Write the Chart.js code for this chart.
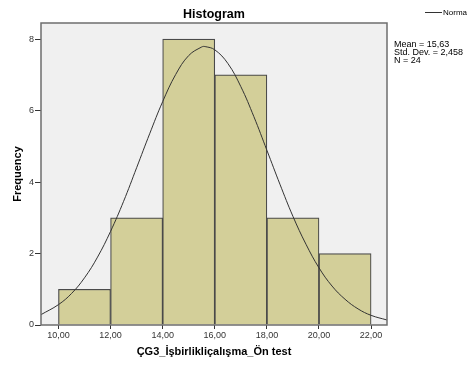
<!DOCTYPE html>
<html>
<head>
<meta charset="utf-8">
<script src="https://cdn.jsdelivr.net/npm/chart.js@4"></script>
<style>
  html, body { margin: 0; padding: 0; background: #fff; }
  #wrap { width: 468px; height: 365px; position: relative; }
</style>
</head>
<body>
<div id="wrap"><canvas id="myChart"></canvas></div>
<script>
// 히스토그램 구간 (중심값) 과 빈도
const binCenters = [11, 13, 15, 17, 19, 21];
const frequencies = [1, 3, 8, 7, 3, 2];

// 정규곡선 - 그림에서 읽은 값
const curveX = [9.33, 10, 10.5, 11, 11.5, 12, 12.5, 13, 13.5, 14, 14.5, 15, 15.5, 15.63, 16, 16.5, 17, 17.5, 18, 18.5, 19, 19.5, 20, 20.5, 21, 21.5, 22, 22.61];
const curveY = [0.29, 0.57, 0.88, 1.32, 1.90, 2.62, 3.46, 4.40, 5.35, 6.25, 7.01, 7.54, 7.78, 7.79, 7.70, 7.32, 6.67, 5.83, 4.89, 3.94, 3.04, 2.26, 1.60, 1.09, 0.72, 0.45, 0.27, 0.14];

const xTicks = [10, 12, 14, 16, 18, 20, 22];
const yTicks = [0, 2, 4, 6, 8];

const statLines = ['Mean = 15,63', 'Std. Dev. = 2,458', 'N = 24'];

const barData = binCenters.map((c, i) => ({x: c, y: frequencies[i]}));
const curveData = curveX.map((x, i) => ({x: x, y: curveY[i]}));

// 배경, 테두리, 제목, 범례 그리기
const spssDeco = {
  id: 'spssDeco',
  beforeDraw(chart) {
    const {ctx, chartArea: a} = chart;
    ctx.save();
    ctx.fillStyle = '#f0f0f0';
    ctx.fillRect(a.left, a.top, a.right - a.left, a.bottom - a.top);
    ctx.restore();
  },
  afterDraw(chart) {
    const {ctx, chartArea: a} = chart;
    ctx.save();
    ctx.strokeStyle = '#6e6e6e';
    ctx.lineWidth = 1.5;
    ctx.strokeRect(a.left, a.top, a.right - a.left, a.bottom - a.top);

    ctx.fillStyle = '#000';
    ctx.font = 'bold 12.5px "Liberation Sans", Arial, sans-serif';
    ctx.textAlign = 'center';
    ctx.textBaseline = 'middle';
    ctx.fillText('Histogram', (a.left + a.right) / 2, 15);

    // 범례
    ctx.strokeStyle = '#333';
    ctx.lineWidth = 1;
    ctx.beginPath();
    ctx.moveTo(425, 12.5);
    ctx.lineTo(442, 12.5);
    ctx.stroke();
    ctx.font = '8px "Liberation Sans", Arial, sans-serif';
    ctx.textAlign = 'left';
    ctx.fillText('Norma', 443, 13);

    ctx.font = '9px "Liberation Sans", Arial, sans-serif';
    statLines.forEach((s, i) => ctx.fillText(s, 394, 45 + i * 8));
    ctx.restore();
  }
};

const ctx = document.getElementById('myChart').getContext('2d');
const newChart = new Chart(ctx, {
  data: {
    datasets: [
      {
        type: 'line',
        data: curveData,
        borderColor: '#333',
        borderWidth: 1,
        pointRadius: 0,
        tension: 0.4,
        fill: false,
        order: 0
      },
      {
        type: 'bar',
        data: barData,
        backgroundColor: '#d3cf99',
        borderColor: '#4a4a4a',
        borderWidth: 1.2,
        barPercentage: 1,
        categoryPercentage: 1,
        order: 1
      }
    ]
  },
  options: {
    responsive: true,
    maintainAspectRatio: false,
    animation: false,
    layout: { padding: { top: 23, right: 81, left: 0, bottom: 0 } },
    plugins: {
      legend: { display: false },
      tooltip: { enabled: false }
    },
    scales: {
      x: {
        type: 'linear',
        offset: false,
        min: 9.33,
        max: 22.61,
        afterBuildTicks: s => { s.ticks = xTicks.map(v => ({value: v})); },
        afterFit: s => { s.height = 40; },
        grid: { offset: false, drawOnChartArea: false, drawTicks: true, tickLength: 4, color: '#333' },
        border: { display: false },
        ticks: {
          padding: 1,
          color: '#333',
          font: { size: 9, family: '"Liberation Sans", Arial, sans-serif' },
          callback: v => v.toFixed(2).replace('.', ',')
        },
        title: {
          display: true,
          text: 'ÇG3_İşbirlikliçalışma_Ön test',
          color: '#000',
          font: { size: 11, weight: 'bold', family: '"Liberation Sans", Arial, sans-serif' },
          padding: { top: 0, bottom: 6 }
        }
      },
      y: {
        min: 0,
        max: 8.45,
        afterBuildTicks: s => { s.ticks = yTicks.map(v => ({value: v})); },
        afterFit: s => { s.width = 41; },
        grid: { drawOnChartArea: false, drawTicks: true, tickLength: 6, color: '#333' },
        border: { display: false },
        ticks: {
          padding: 1,
          color: '#333',
          font: { size: 9, family: '"Liberation Sans", Arial, sans-serif' }
        },
        title: {
          display: true,
          text: 'Frequency',
          color: '#000',
          font: { size: 11, weight: 'bold', family: '"Liberation Sans", Arial, sans-serif' },
          padding: { top: 11, bottom: 0 }
        }
      }
    }
  },
  plugins: [spssDeco]
});
</script>
</body>
</html>
